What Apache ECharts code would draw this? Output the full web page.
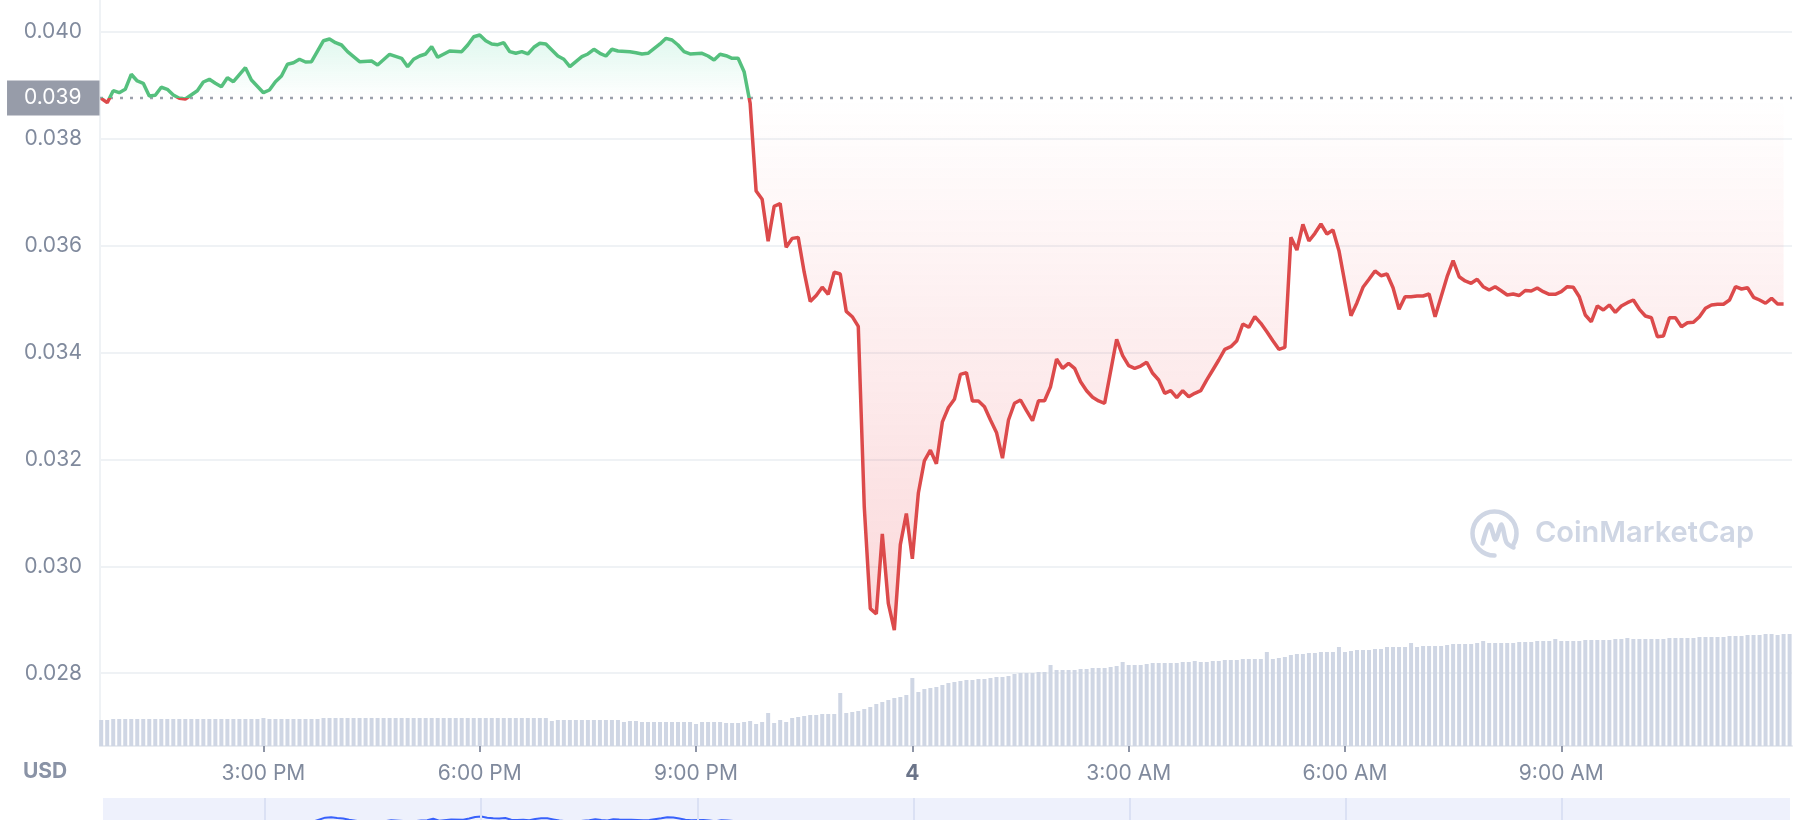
<!DOCTYPE html>
<html><head><meta charset="utf-8">
<script src="https://cdn.jsdelivr.net/npm/echarts@6/dist/echarts.min.js"></script>
<style>html,body{margin:0;padding:0;background:#fff}#c{width:1798px;height:820px}</style>
</head><body><div id="c"></div>
<script>
// ---- data ----
const firstSlot = '2023-03-03 12:45';   // first 5-minute sample
const stepMinutes = 5;
const axisStart = '2023-03-03 12:44';
const axisEnd = '2023-03-04 12:12';
const miniStart = '2023-03-03 12:45';
const miniEnd = '2023-03-04 12:10';
const openPrice = 0.03876;              // dotted reference line (label shows 0.039)

// price (USD) per 5-minute slot, null where not read
const priceValues = [
0.038756,0.038674,0.038898,0.038861,0.038924,0.039205,0.039080,0.039037,0.038799,0.038812,
0.038962,0.038924,0.038818,0.038756,0.038743,null,0.038898,0.039061,0.039111,0.039037,
0.038973,0.039141,0.039066,null,0.039328,0.039098,null,0.038861,0.038911,0.039066,
0.039173,0.039392,0.039422,0.039486,0.039435,0.039441,null,0.039833,0.039865,0.039796,
0.039753,0.039628,null,0.039441,null,0.039454,0.039379,null,0.039579,null,
0.039504,0.039347,0.039486,0.039547,0.039585,0.039721,0.039523,null,0.039641,null,
0.039628,0.039753,0.039908,0.039940,0.039833,0.039772,0.039759,0.039796,0.039628,0.039598,
0.039628,0.039585,0.039710,0.039785,0.039772,0.039660,0.039547,0.039486,0.039347,0.039441,
0.039534,0.039585,0.039673,0.039598,0.039547,0.039673,0.039641,null,0.039628,0.039609,
0.039585,0.039598,null,0.039772,0.039878,0.039847,0.039753,0.039628,0.039585,null,
0.039598,0.039547,0.039472,0.039579,0.039553,0.039504,0.039504,0.039254,0.038666,0.037020,
0.036866,0.036080,0.036733,0.036788,0.035968,0.036135,0.036153,0.035502,0.034956,0.035068,
0.035222,0.035089,0.035502,0.035469,0.034769,0.034670,0.034490,0.031106,0.029207,0.029108,
0.030606,0.029308,0.028808,0.030406,0.030986,0.030140,0.031371,0.031972,0.032172,0.031918,
0.032703,0.032971,0.033124,0.033590,0.033624,0.033091,0.033091,0.032984,0.032737,0.032505,
0.032024,0.032737,0.033050,0.033111,0.032911,0.032724,0.033098,0.033098,0.033360,0.033878,
0.033704,0.033798,0.033704,0.033454,0.033285,0.033162,0.033093,0.033050,null,0.034247,
0.033940,0.033753,0.033704,0.033747,0.033817,0.033611,0.033486,0.033237,0.033285,0.033154,
0.033285,0.033173,0.033237,0.033285,0.033486,0.033673,0.033860,0.034060,0.034109,0.034221,
0.034533,0.034471,0.034670,0.034546,0.034389,0.034221,0.034060,0.034097,0.036155,0.035918,
0.036399,0.036086,0.036230,0.036404,0.036217,0.036292,0.035905,0.035295,0.034689,0.034932,
0.035220,0.035370,0.035525,0.035437,0.035469,0.035212,0.034808,0.035044,0.035044,0.035057,
0.035057,0.035095,0.034670,0.035044,0.035418,0.035718,0.035418,0.035338,0.035295,0.035370,
0.035231,0.035169,0.035231,0.035156,0.035076,0.035095,0.035066,0.035160,0.035151,0.035207,
0.035138,0.035089,0.035089,0.035138,0.035231,0.035220,0.035044,0.034702,0.034576,0.034870,
0.034795,0.034889,0.034752,0.034870,0.034932,0.034982,0.034808,0.034683,0.034651,0.034296,
0.034309,0.034651,0.034651,0.034483,0.034558,0.034565,0.034670,0.034827,0.034889,0.034902,
0.034902,0.034982,0.035231,0.035188,0.035212,0.035033,0.034982,0.034921,0.035014,0.034907,0.034907
];

// volume (relative units) per 5-minute slot
const volumeValues = [
2.6,2.6,2.7,2.7,2.7,2.7,2.7,2.7,2.7,2.7,
2.7,2.7,2.7,2.7,2.7,2.7,2.7,2.7,2.7,2.7,
2.7,2.7,2.7,2.7,2.7,2.7,2.7,2.8,2.7,2.7,
2.7,2.7,2.7,2.7,2.7,2.7,2.7,2.8,2.8,2.8,
2.8,2.8,2.8,2.8,2.8,2.8,2.8,2.8,2.8,2.8,
2.8,2.8,2.8,2.8,2.8,2.8,2.8,2.8,2.8,2.8,
2.8,2.8,2.8,2.8,2.8,2.8,2.8,2.8,2.8,2.8,
2.8,2.8,2.8,2.8,2.8,2.5,2.6,2.6,2.6,2.6,
2.6,2.6,2.6,2.6,2.6,2.6,2.6,2.4,2.5,2.5,
2.4,2.4,2.4,2.4,2.4,2.4,2.4,2.4,2.4,2.2,
2.4,2.4,2.4,2.4,2.3,2.3,2.3,2.4,2.5,2.2,
2.4,3.3,2.3,2.6,2.4,2.8,2.9,3.0,3.1,3.1,
3.2,3.2,3.2,5.3,3.3,3.4,3.5,3.7,3.9,4.2,
4.4,4.6,4.8,4.9,5.1,6.8,5.4,5.7,5.8,5.9,
6.1,6.3,6.4,6.5,6.6,6.6,6.7,6.7,6.8,6.9,
6.9,7.0,7.2,7.3,7.3,7.3,7.4,7.4,8.1,7.6,
7.6,7.6,7.6,7.7,7.7,7.8,7.8,7.8,7.9,8.0,
8.4,8.1,8.1,8.1,8.2,8.3,8.3,8.3,8.3,8.3,
8.4,8.4,8.5,8.4,8.4,8.5,8.5,8.6,8.6,8.6,
8.7,8.7,8.7,8.7,9.4,8.7,8.8,8.9,9.1,9.2,
9.2,9.3,9.3,9.4,9.4,9.4,9.9,9.4,9.5,9.6,
9.6,9.6,9.7,9.7,9.9,9.9,9.9,9.9,10.3,9.9,
10.0,10.0,10.0,10.0,10.1,10.2,10.2,10.2,10.2,10.3,
10.5,10.3,10.3,10.3,10.3,10.3,10.4,10.4,10.4,10.5,
10.5,10.5,10.7,10.5,10.5,10.5,10.5,10.6,10.6,10.6,
10.6,10.6,10.7,10.7,10.8,10.7,10.7,10.7,10.7,10.7,
10.7,10.8,10.8,10.8,10.8,10.8,10.9,10.9,10.9,10.9,
10.9,11.0,11.0,11.0,11.1,11.1,11.1,11.2,11.2,11.1,
11.2,11.2
];

const xTickTimes = ['2023-03-03 15:00','2023-03-03 18:00','2023-03-03 21:00','2023-03-04 00:00','2023-03-04 03:00','2023-03-04 06:00','2023-03-04 09:00'];
const xTickLabels = ['3:00 PM','6:00 PM','9:00 PM','4','3:00 AM','6:00 AM','9:00 AM'];

// ---- build ----
function ts(s){const [d,t]=s.split(' ');const [Y,M,D]=d.split('-').map(Number);const [h,m]=t.split(':').map(Number);return new Date(Y,M-1,D,h,m).getTime();}
const t0 = ts(firstSlot), stepMs = stepMinutes*60000;
const priceData = priceValues.map((v,i)=>[t0+i*stepMs, v]).filter(d=>d[1]!==null);
const volumeData = volumeValues.map((v,i)=>[t0+i*stepMs, v]);
const tickMs = xTickTimes.map(ts);

const vals = priceData.map(d=>d[1]);
const vMax = Math.max(...vals), vMin = Math.min(...vals);
const f = (vMax-openPrice)/(vMax-vMin);

const GREEN='#55c07e', RED='#dc4a4b';
const FONT='Inter, "Noto Sans", sans-serif';
const gridC = '#eff2f5';

const chart = echarts.init(document.getElementById('c'), null, {renderer:'canvas'});
const splitColors = ['rgba(0,0,0,0)',gridC,gridC,gridC,gridC,gridC,gridC,gridC];

chart.setOption({
  animation:false,
  textStyle:{fontFamily:FONT},
  grid:[
    {left:100,right:6,top:31.8,bottom:39.9,outerBoundsMode:'none'},
    {left:100,right:6,top:0,bottom:74,outerBoundsMode:'none'},
    {left:103,right:8,top:798,height:138,show:true,backgroundColor:'#eef1fc',borderWidth:0,outerBoundsMode:'none'}
  ],
  xAxis:[
    {gridIndex:0,type:'value',min:ts(axisStart),max:ts(axisEnd),show:false},
    {gridIndex:1,type:'value',min:ts(axisStart),max:ts(axisEnd),
      axisLine:{show:true,lineStyle:{color:'#e8ebf0',width:2}},
      axisTick:{show:true,customValues:tickMs,length:6,lineStyle:{color:'#8e95a6',width:2}},
      axisLabel:{customValues:tickMs,fontSize:21,color:'#808a9d',margin:17,fontFamily:FONT,
        formatter:function(v){const k=tickMs.findIndex(t=>Math.abs(t-v)<1000);if(k<0)return '';const s=xTickLabels[k];return /^\d+$/.test(s)?'{b|'+s+'}':s;},
        rich:{b:{fontWeight:'bold',fontSize:21,color:'#6b7489',fontFamily:FONT}}},
      splitLine:{show:false}},
    {gridIndex:2,type:'value',min:ts(miniStart),max:ts(miniEnd),show:false}
  ],
  yAxis:[
    {gridIndex:0,type:'value',min:0.026,max:0.040,interval:0.002,position:'left',
      axisLine:{show:false},axisTick:{show:false},
      axisLabel:{fontSize:21,color:'#808a9d',margin:18,fontFamily:FONT,
        formatter:function(v){return (v<0.0275||v>0.0405)?'':v.toFixed(3);}},
      splitLine:{show:true,lineStyle:{color:splitColors,width:2}}},
    {gridIndex:1,type:'value',min:0,max:74.6,
      axisLine:{show:true,lineStyle:{color:gridC,width:2}},axisTick:{show:false},axisLabel:{show:false},splitLine:{show:false}},
    {gridIndex:2,type:'value',min:0.028,max:0.0418,show:false}
  ],
  visualMap:{type:'piecewise',show:false,seriesIndex:1,dimension:1,
    pieces:[{min:0,max:openPrice,color:RED},{min:openPrice,max:1,color:GREEN}],
    outOfRange:{color:GREEN}},
  series:[
    {type:'bar',xAxisIndex:1,yAxisIndex:1,data:volumeData,barWidth:4,
      itemStyle:{color:'#cfd6e4'},z:1,silent:true},
    {type:'line',xAxisIndex:0,yAxisIndex:0,data:priceData,symbol:'none',showSymbol:false,
      lineStyle:{width:3.5},z:3,silent:true,
      areaStyle:{origin:openPrice,color:new echarts.graphic.LinearGradient(0,0,0,1,[
        {offset:0,color:'rgba(22,199,132,0.20)'},
        {offset:f,color:'rgba(22,199,132,0)'},
        {offset:f,color:'rgba(234,57,67,0.0)'},
        {offset:1,color:'rgba(234,57,67,0.28)'}])}},
    {type:'line',xAxisIndex:2,yAxisIndex:2,data:priceData,symbol:'none',showSymbol:false,
      lineStyle:{width:2,color:'#3861fb'},itemStyle:{color:'#3861fb'},z:2,silent:true,
      markLine:{silent:true,symbol:'none',animation:false,label:{show:false},
        lineStyle:{type:'solid',color:'#dbe1f4',width:2},
        data:tickMs.map(t=>({xAxis:t}))}},
    // dotted opening-price reference line with its axis badge
    {type:'line',xAxisIndex:0,yAxisIndex:0,silent:true,z:2,
      symbol:'circle',symbolSize:1,showSymbol:true,itemStyle:{color:'rgba(0,0,0,0)'},
      lineStyle:{type:[3,7],color:'#9aa0ab',width:2.5},
      label:{show:false},
      data:[
        {value:[ts(axisStart),openPrice],label:{show:true,position:'left',distance:0,
          formatter:function(){return openPrice.toFixed(3);},
          color:'#ffffff',backgroundColor:'#979ca9',fontSize:21,fontFamily:FONT,padding:[7,18,7,17]}},
        [ts(axisEnd),openPrice]
      ]}
  ],
  graphic:[
    {type:'text',left:23,top:761,style:{text:'USD',font:'bold 21px '+FONT,fill:'#8a93a6'}},
    {type:'group',left:1470,top:509,children:[
      {type:'arc',shape:{cx:25,cy:24,r:22,startAngle:Math.PI*0.5,endAngle:Math.PI*2.17,clockwise:true},
        style:{stroke:'#cfd6e4',lineWidth:4.5,fill:null,lineCap:'round'}},
      {type:'polyline',shape:{points:[[13,34],[20,15],[26,30],[32,15],[37,33],[44,38]],smooth:0.3},
        style:{stroke:'#cfd6e4',lineWidth:4.5,fill:null,lineCap:'round',lineJoin:'round'}}
    ]},
    {type:'text',left:1535,top:519,style:{text:'CoinMarketCap',font:'600 29px '+FONT,fill:'#cfd6e4'}}
  ]
});
</script></body></html>
